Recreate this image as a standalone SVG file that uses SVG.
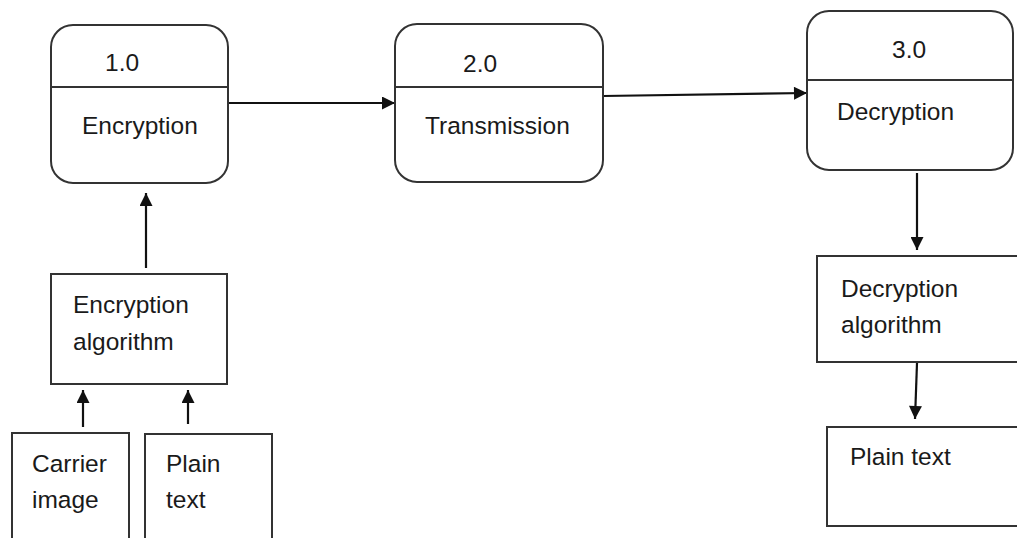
<svg xmlns="http://www.w3.org/2000/svg" width="1017" height="538" viewBox="0 0 1017 538">
<defs>
<style>
.box{fill:#fff;stroke:#333;stroke-width:2}
.div{stroke:#333;stroke-width:2}
.t{font-family:"Liberation Sans",Arial,sans-serif;font-size:24.5px;fill:#1a1a1a}
.c{fill:none;stroke:#111;stroke-width:2.2}
</style>
<marker id="ah" viewBox="0 0 10 10" refX="10" refY="5" markerWidth="15" markerHeight="13" markerUnits="userSpaceOnUse" orient="auto">
<path d="M0,0 L10,5 L0,10 z" fill="#111"/>
</marker>
</defs>
<rect width="1017" height="538" fill="#fff"/>
<g id="connectors">
<line class="c" x1="228" y1="103" x2="395" y2="103" marker-end="url(#ah)"/>
<line class="c" x1="603" y1="96" x2="807" y2="93" marker-end="url(#ah)"/>
<line class="c" x1="146" y1="268" x2="146" y2="193" marker-end="url(#ah)"/>
<line class="c" x1="83" y1="427" x2="83" y2="390" marker-end="url(#ah)"/>
<line class="c" x1="188" y1="424" x2="188" y2="390" marker-end="url(#ah)"/>
<line class="c" x1="917" y1="173" x2="917" y2="250" marker-end="url(#ah)"/>
<line class="c" x1="917" y1="363" x2="915" y2="419" marker-end="url(#ah)"/>
</g>
<g id="node-1">
<rect class="box" x="51" y="25" width="177" height="158" rx="22"/>
<line class="div" x1="51" y1="87" x2="228" y2="87"/>
<text class="t" x="105" y="71">1.0</text>
<text class="t" x="82" y="134">Encryption</text>
</g>
<g id="node-2">
<rect class="box" x="395" y="24" width="208" height="158" rx="22"/>
<line class="div" x1="395" y1="87" x2="603" y2="87"/>
<text class="t" x="463" y="72">2.0</text>
<text class="t" x="425" y="134">Transmission</text>
</g>
<g id="node-3">
<rect class="box" x="807" y="11" width="206" height="159" rx="22"/>
<line class="div" x1="807" y1="80" x2="1013" y2="80"/>
<text class="t" x="892" y="58">3.0</text>
<text class="t" x="837" y="120">Decryption</text>
</g>
<g id="enc-algo">
<rect class="box" x="51" y="274" width="176" height="110"/>
<text class="t" x="73" y="313">Encryption</text>
<text class="t" x="73" y="350">algorithm</text>
</g>
<g id="carrier-image">
<rect class="box" x="12" y="433" width="117" height="120"/>
<text class="t" x="32" y="472">Carrier</text>
<text class="t" x="32" y="508">image</text>
</g>
<g id="plain-text-in">
<rect class="box" x="145" y="434" width="127" height="120"/>
<text class="t" x="166" y="472">Plain</text>
<text class="t" x="166" y="508">text</text>
</g>
<g id="dec-algo">
<rect class="box" x="817" y="256" width="210" height="106"/>
<text class="t" x="841" y="297">Decryption</text>
<text class="t" x="841" y="333">algorithm</text>
</g>
<g id="plain-text-out">
<rect class="box" x="827" y="427" width="200" height="99"/>
<text class="t" x="850" y="465">Plain text</text>
</g>
</svg>
